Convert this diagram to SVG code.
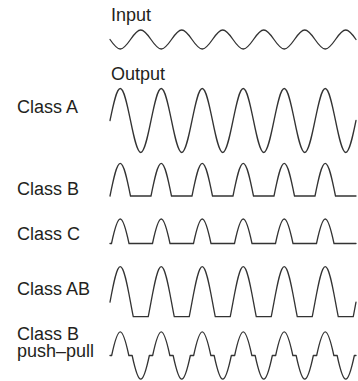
<svg xmlns="http://www.w3.org/2000/svg" width="358" height="381" viewBox="0 0 358 381">
<style>
text{font-family:"Liberation Sans",Arial,sans-serif;font-size:18px;fill:#231f20}
.w{fill:none;stroke:#333;stroke-width:1.3;stroke-linejoin:round;stroke-linecap:round}
</style>
<rect width="358" height="381" fill="#fff"/>
<g id="input">
<text x="111" y="20.5">Input</text>
<path class="w" d="M110,39.5 c3.343,4.867 6.541,9.5 10.25,9.5 c3.709,0 6.907,-4.633 10.25,-9.5 c3.343,-4.867 6.541,-9.5 10.25,-9.5 c3.709,0 6.907,4.633 10.25,9.5 c3.343,4.867 6.541,9.5 10.25,9.5 c3.709,0 6.907,-4.633 10.25,-9.5 c3.343,-4.867 6.541,-9.5 10.25,-9.5 c3.709,0 6.907,4.633 10.25,9.5 c3.343,4.867 6.541,9.5 10.25,9.5 c3.709,0 6.907,-4.633 10.25,-9.5 c3.343,-4.867 6.541,-9.5 10.25,-9.5 c3.709,0 6.907,4.633 10.25,9.5 c3.343,4.867 6.541,9.5 10.25,9.5 c3.709,0 6.907,-4.633 10.25,-9.5 c3.343,-4.867 6.541,-9.5 10.25,-9.5 c3.709,0 6.907,4.633 10.25,9.5 c3.343,4.867 6.541,9.5 10.25,9.5 c3.709,0 6.907,-4.633 10.25,-9.5 c3.343,-4.867 6.541,-9.5 10.25,-9.5 c3.709,0 6.907,4.633 10.25,9.5 c3.343,4.867 6.541,9.5 10.25,9.5 c3.709,0 6.907,-4.633 10.25,-9.5 c3.343,-4.867 6.541,-9.5 10.25,-9.5 c3.709,0 6.907,4.633 10.25,9.5"/>
</g>
<g id="output-label">
<text x="111" y="80">Output</text>
</g>
<g id="class-a">
<text x="17" y="113">Class A</text>
<path class="w" d="M110,120.5 c3.343,-16.39 6.541,-32 10.25,-32 c3.709,0 6.907,15.61 10.25,32 c3.343,16.39 6.541,32 10.25,32 c3.709,0 6.907,-15.61 10.25,-32 c3.343,-16.39 6.541,-32 10.25,-32 c3.709,0 6.907,15.61 10.25,32 c3.343,16.39 6.541,32 10.25,32 c3.709,0 6.907,-15.61 10.25,-32 c3.343,-16.39 6.541,-32 10.25,-32 c3.709,0 6.907,15.61 10.25,32 c3.343,16.39 6.541,32 10.25,32 c3.709,0 6.907,-15.61 10.25,-32 c3.343,-16.39 6.541,-32 10.25,-32 c3.709,0 6.907,15.61 10.25,32 c3.343,16.39 6.541,32 10.25,32 c3.709,0 6.907,-15.61 10.25,-32 c3.343,-16.39 6.541,-32 10.25,-32 c3.709,0 6.907,15.61 10.25,32 c3.343,16.39 6.541,32 10.25,32 c3.709,0 6.907,-15.61 10.25,-32 c3.343,-16.39 6.541,-32 10.25,-32 c3.709,0 6.907,15.61 10.25,32 c3.343,16.39 6.541,32 10.25,32 c3.709,0 6.907,-15.61 10.25,-32"/>
</g>
<g id="class-b">
<text x="17" y="195">Class B</text>
<path class="w" d="M110,196 c3.343,-16.75 6.541,-32.7 10.25,-32.7 c3.709,0 6.907,15.95 10.25,32.7 h20.5 c3.343,-16.75 6.541,-32.7 10.25,-32.7 c3.709,0 6.907,15.95 10.25,32.7 h20.5 c3.343,-16.75 6.541,-32.7 10.25,-32.7 c3.709,0 6.907,15.95 10.25,32.7 h20.5 c3.343,-16.75 6.541,-32.7 10.25,-32.7 c3.709,0 6.907,15.95 10.25,32.7 h20.5 c3.343,-16.75 6.541,-32.7 10.25,-32.7 c3.709,0 6.907,15.95 10.25,32.7 h20.5 c3.343,-16.75 6.541,-32.7 10.25,-32.7 c3.709,0 6.907,15.95 10.25,32.7 h20.5"/>
</g>
<g id="class-c">
<text x="17" y="239.5">Class C</text>
<path class="w" d="M110,243.5 h1.5 c2.89,-13.64 5.6,-24.5 8.75,-24.5 c3.15,0 5.86,10.86 8.75,24.5 h22 h1.5 c2.89,-13.64 5.6,-24.5 8.75,-24.5 c3.15,0 5.86,10.86 8.75,24.5 h22 h1.5 c2.89,-13.64 5.6,-24.5 8.75,-24.5 c3.15,0 5.86,10.86 8.75,24.5 h22 h1.5 c2.89,-13.64 5.6,-24.5 8.75,-24.5 c3.15,0 5.86,10.86 8.75,24.5 h22 h1.5 c2.89,-13.64 5.6,-24.5 8.75,-24.5 c3.15,0 5.86,10.86 8.75,24.5 h22 h1.5 c2.89,-13.64 5.6,-24.5 8.75,-24.5 c3.15,0 5.86,10.86 8.75,24.5 h22"/>
</g>
<g id="class-ab">
<text x="17" y="295">Class AB</text>
<path class="w" d="M110,302.2 c3.343,-18.19 6.541,-35.5 10.25,-35.5 c3.709,0 6.907,17.31 10.25,35.5 c0.919,5 1.837,9.94 2.756,14.5 h14.988 c0.919,-4.56 1.837,-9.5 2.756,-14.5 c3.343,-18.19 6.541,-35.5 10.25,-35.5 c3.709,0 6.907,17.31 10.25,35.5 c0.919,5 1.837,9.94 2.756,14.5 h14.988 c0.919,-4.56 1.837,-9.5 2.756,-14.5 c3.343,-18.19 6.541,-35.5 10.25,-35.5 c3.709,0 6.907,17.31 10.25,35.5 c0.919,5 1.837,9.94 2.756,14.5 h14.988 c0.919,-4.56 1.837,-9.5 2.756,-14.5 c3.343,-18.19 6.541,-35.5 10.25,-35.5 c3.709,0 6.907,17.31 10.25,35.5 c0.919,5 1.837,9.94 2.756,14.5 h14.988 c0.919,-4.56 1.837,-9.5 2.756,-14.5 c3.343,-18.19 6.541,-35.5 10.25,-35.5 c3.709,0 6.907,17.31 10.25,35.5 c0.919,5 1.837,9.94 2.756,14.5 h14.988 c0.919,-4.56 1.837,-9.5 2.756,-14.5 c3.343,-18.19 6.541,-35.5 10.25,-35.5 c3.709,0 6.907,17.31 10.25,35.5 c0.919,5 1.837,9.94 2.756,14.5 h14.988 c0.919,-4.56 1.837,-9.5 2.756,-14.5"/>
</g>
<g id="class-b-push-pull">
<text x="17" y="339.5">Class B</text>
<text x="17" y="357">push–pull</text>
<path class="w" d="M110,355.5 h1.65 c2.84,-13.31 5.5,-23.7 8.6,-23.7 c3.1,0 5.76,10.39 8.6,23.7 h3.3 c2.84,13.31 5.5,23.7 8.6,23.7 c3.1,0 5.76,-10.39 8.6,-23.7 h1.65 h1.65 c2.84,-13.31 5.5,-23.7 8.6,-23.7 c3.1,0 5.76,10.39 8.6,23.7 h3.3 c2.84,13.31 5.5,23.7 8.6,23.7 c3.1,0 5.76,-10.39 8.6,-23.7 h1.65 h1.65 c2.84,-13.31 5.5,-23.7 8.6,-23.7 c3.1,0 5.76,10.39 8.6,23.7 h3.3 c2.84,13.31 5.5,23.7 8.6,23.7 c3.1,0 5.76,-10.39 8.6,-23.7 h1.65 h1.65 c2.84,-13.31 5.5,-23.7 8.6,-23.7 c3.1,0 5.76,10.39 8.6,23.7 h3.3 c2.84,13.31 5.5,23.7 8.6,23.7 c3.1,0 5.76,-10.39 8.6,-23.7 h1.65 h1.65 c2.84,-13.31 5.5,-23.7 8.6,-23.7 c3.1,0 5.76,10.39 8.6,23.7 h3.3 c2.84,13.31 5.5,23.7 8.6,23.7 c3.1,0 5.76,-10.39 8.6,-23.7 h1.65 h1.65 c2.84,-13.31 5.5,-23.7 8.6,-23.7 c3.1,0 5.76,10.39 8.6,23.7 h3.3 c2.84,13.31 5.5,23.7 8.6,23.7 c3.1,0 5.76,-10.39 8.6,-23.7 h1.65"/>
</g>
</svg>
